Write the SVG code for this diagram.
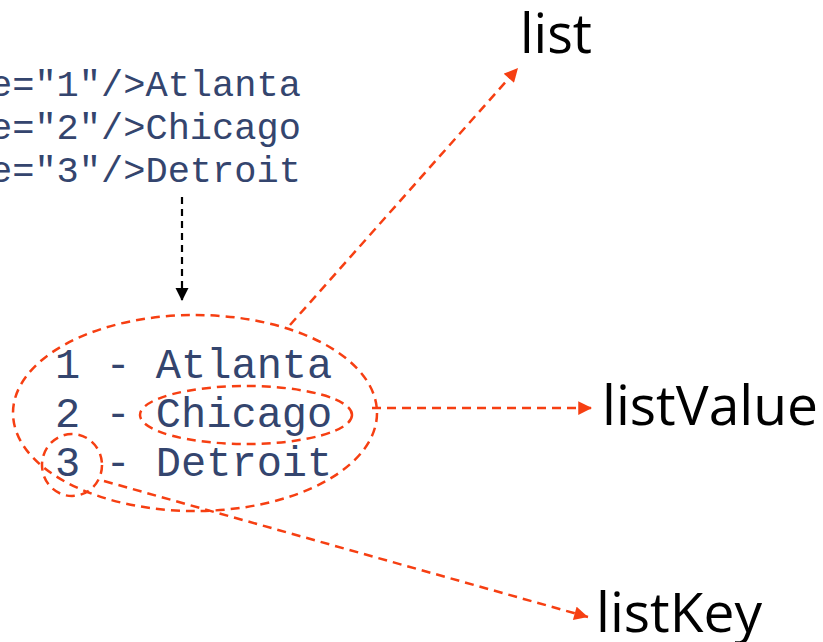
<svg xmlns="http://www.w3.org/2000/svg" width="823" height="642" viewBox="0 0 823 642">
<defs>
<marker id="ra" viewBox="0 0 10 10" refX="10" refY="5" markerWidth="6" markerHeight="5.5" orient="auto" markerUnits="strokeWidth"><path d="M0,0 L10,5 L0,10 z" fill="#f63f12"/></marker>
<marker id="ka" viewBox="0 0 10 10" refX="10" refY="5" markerWidth="6" markerHeight="6" orient="auto" markerUnits="strokeWidth"><path d="M0,0 L10,5 L0,10 z" fill="#000"/></marker>
</defs>
<style>
.code{font-family:"Liberation Mono","Courier New",monospace;fill:#34456e}
.lbl{font-family:"Open Sans","Noto Sans",sans-serif;font-size:54px;fill:#000}
.red{fill:none;stroke:#f63f12;stroke-width:2.5;stroke-dasharray:9 6}
</style>
<rect width="823" height="642" fill="#fff"/>
<g id="source" class="code" font-size="37">
<text x="-10" y="96">e="1"/&gt;Atlanta</text>
<text x="-10" y="139">e="2"/&gt;Chicago</text>
<text x="-10" y="182">e="3"/&gt;Detroit</text>
</g>
<g id="output" class="code" font-size="42">
<text x="55" y="378">1 - Atlanta</text>
<text x="55" y="427">2 - Chicago</text>
<text x="55" y="476">3 - Detroit</text>
</g>
<g id="list-ellipse"><ellipse class="red" cx="195" cy="413" rx="182" ry="98"/></g>
<g id="value-ellipse"><ellipse class="red" cx="246" cy="415" rx="106" ry="29"/></g>
<g id="key-circle"><ellipse class="red" cx="72" cy="465" rx="30" ry="31"/></g>
<g id="label-list"><text class="lbl" x="520" y="53" textLength="72" lengthAdjust="spacingAndGlyphs">list</text></g>
<g id="label-listValue"><text class="lbl" x="602" y="425" textLength="216" lengthAdjust="spacingAndGlyphs">listValue</text></g>
<g id="label-listKey"><text class="lbl" x="596" y="632" textLength="166" lengthAdjust="spacingAndGlyphs">listKey</text></g>
<g id="connectors">
<line x1="182" y1="197" x2="182" y2="301" stroke="#000" stroke-width="2.2" stroke-dasharray="7 5" marker-end="url(#ka)"/>
<line class="red" x1="290" y1="325" x2="518" y2="68" marker-end="url(#ra)"/>
<line class="red" x1="372" y1="408" x2="592" y2="408" marker-end="url(#ra)"/>
<line class="red" x1="104" y1="481" x2="588" y2="617" marker-end="url(#ra)"/>
</g>
</svg>
